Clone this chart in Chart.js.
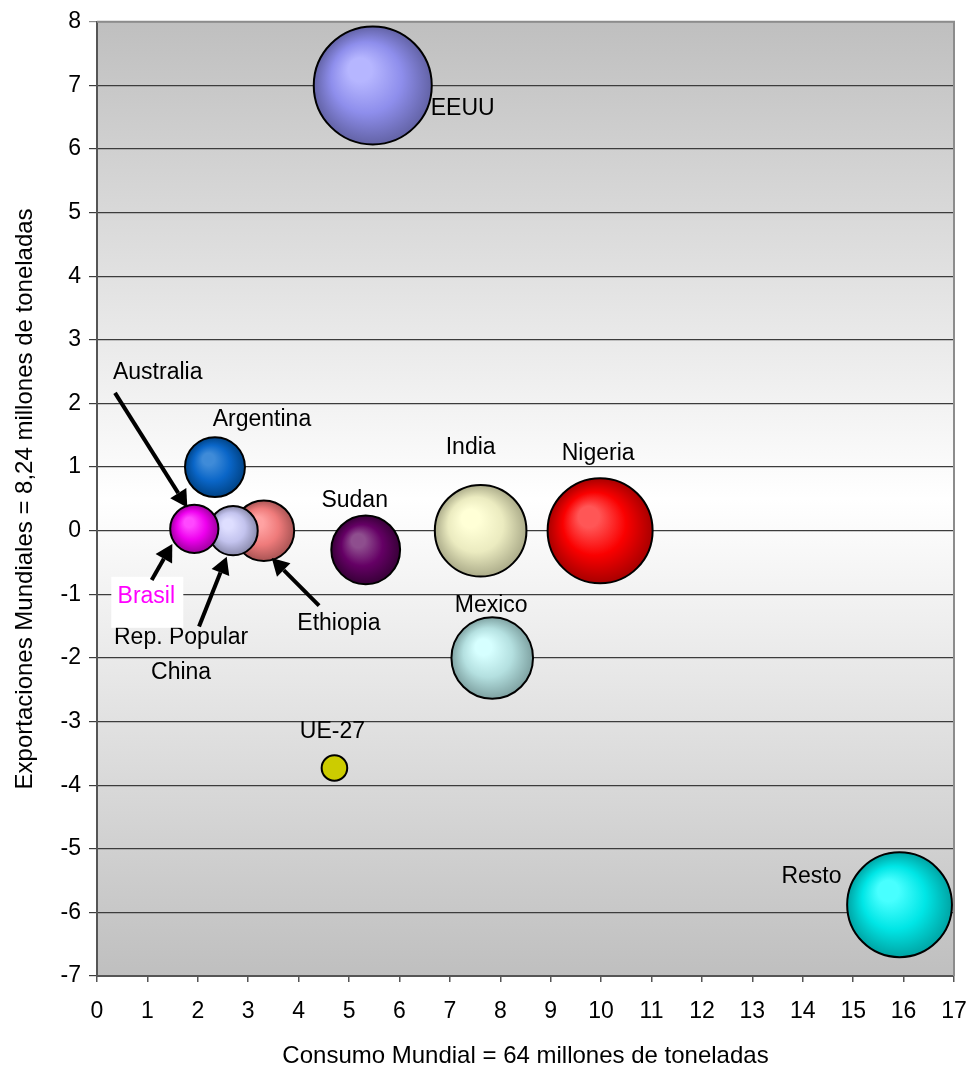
<!DOCTYPE html>
<html>
<head>
<meta charset="utf-8">
<script src="https://cdn.jsdelivr.net/npm/chart.js@4/dist/chart.umd.min.js"></script>
<style>
  html, body { margin: 0; padding: 0; background: #ffffff; overflow: hidden; }
  #wrap { width: 972px; height: 1073px; position: relative; }
  #wrap canvas { display: block; }
</style>
</head>
<body>
<div id="wrap"><canvas id="c"></canvas></div>
<script>
// Countries in drawing order (later ones are painted on top)
const countries = ['EEUU', 'Argentina', 'Sudan', 'India', 'Nigeria', 'Mexico', 'UE-27', 'Resto', 'Ethiopia', 'Rep. Popular China', 'Brasil'];
// Consumo (x) and exportaciones (y) in millones de toneladas
const consumo = [5.47, 2.34, 5.33, 7.61, 9.98, 7.84, 4.71, 15.92, 3.31, 2.70, 1.93];
const exportaciones = [7.0, 1.0, -0.3, 0.0, 0.0, -2.0, -3.73, -5.88, 0.0, 0.0, 0.03];
// Relative bubble size (area)
const tamano = [100, 25.8, 34.0, 60.3, 79.2, 47.8, 4.7, 78.9, 26.4, 17.4, 16.7];

const xTicksMin = 0, xTicksMax = 17;
const yTicksMin = -7, yTicksMax = 8;

// Bubble shading: [highlight, body, rim]
const shades = {
  'EEUU': ['#b6b6ff', '#8e8eec', '#6363a6'],
  'Argentina': ['#3f8bd8', '#0a66c8', '#004386'],
  'Sudan': ['#8e4e8e', '#650065', '#380038'],
  'India': ['#ffffd6', '#ebebc0', '#acac8a'],
  'Nigeria': ['#ff5656', '#fa0000', '#a80000'],
  'Mexico': ['#d6ffff', '#b4e0e0', '#7fa2a2'],
  'UE-27': ['#cccc00', '#cccc00', '#cccc00'],
  'Resto': ['#48ffff', '#00e6e6', '#00a4a4'],
  'Ethiopia': ['#ffa2a2', '#ef7b7b', '#a85454'],
  'Rep. Popular China': ['#dedeff', '#c3c3ee', '#8a8aac'],
  'Brasil': ['#ff48ff', '#ee00ee', '#9e009e']
};

// Label placement relative to each bubble centre (pixels)
const labelStyle = {
  'EEUU': { lines: ['EEUU'], dx: 58, dy: 23, align: 'left' },
  'Argentina': { lines: ['Argentina'], dx: 47, dy: -47, align: 'center' },
  'Sudan': { lines: ['Sudan'], dx: -11, dy: -49, align: 'center' },
  'India': { lines: ['India'], dx: -10, dy: -83, align: 'center' },
  'Nigeria': { lines: ['Nigeria'], dx: -2, dy: -77, align: 'center' },
  'Mexico': { lines: ['Mexico'], dx: -1, dy: -52, align: 'center' },
  'UE-27': { lines: ['UE-27'], dx: -2, dy: -36, align: 'center' },
  'Resto': { lines: ['Resto'], dx: -58, dy: -28, align: 'right' },
  'Ethiopia': { lines: ['Ethiopia'], dx: 75, dy: 93, align: 'center' },
  'Rep. Popular China': { lines: ['Rep. Popular', 'China'], dx: -52, dy: 107, align: 'center', lineGap: 34.5 },
  'Brasil': { lines: ['Brasil'], dx: -48, dy: 68, align: 'center', color: '#ff00ff', box: [-35, -20, 72, 51] }
};

// Free-standing note and pointer arrows, in axis units
const notes = [{ text: 'Australia', x: 0.317, y: 2.48, align: 'left' }];
const arrows = [
  { from: [0.357, 2.166], to: [1.792, 0.364] },
  { from: [1.085, -0.774], to: [1.494, -0.210] },
  { from: [2.024, -1.506], to: [2.573, -0.409] },
  { from: [4.405, -1.177], to: [3.466, -0.429] }
];

const FONT = '"Liberation Sans", Arial, sans-serif';
const maxR = 59;
const maxSize = Math.max(...tamano);

const points = countries.map((c, i) => ({
  x: consumo[i],
  y: exportaciones[i],
  r: maxR * Math.sqrt(tamano[i] / maxSize),
  name: c
}));

function bubbleFill(context) {
  const chart = context.chart;
  const raw = context.raw;
  if (!raw || !shades[raw.name]) return '#999999';
  const s = shades[raw.name];
  const xs = chart.scales && chart.scales.x, ys = chart.scales && chart.scales.y;
  if (!xs || !ys) return s[1];
  const cx = xs.getPixelForValue(raw.x);
  const cy = ys.getPixelForValue(raw.y);
  const r = raw.r;
  if (![cx, cy, r].every(Number.isFinite) || r <= 0) return s[1];
  const g = chart.ctx.createRadialGradient(cx - 0.27 * r, cy - 0.33 * r, 0, cx, cy, r);
  g.addColorStop(0, s[0]);
  g.addColorStop(0.2, s[0]);
  g.addColorStop(0.6, s[1]);
  g.addColorStop(1, s[2]);
  return g;
}

// Plot background: grey at the edges fading to white in the middle
const plotBackground = {
  id: 'plotBackground',
  beforeDraw(chart) {
    const { ctx, chartArea: a } = chart;
    const g = ctx.createLinearGradient(0, a.top, 0, a.bottom);
    g.addColorStop(0, '#bfbfbf');
    g.addColorStop(0.5, '#ffffff');
    g.addColorStop(1, '#bfbfbf');
    ctx.save();
    ctx.fillStyle = g;
    ctx.fillRect(a.left, a.top, a.right - a.left, a.bottom - a.top);
    ctx.restore();
  },
  beforeDatasetsDraw(chart) {
    const { ctx, chartArea: a } = chart;
    ctx.save();
    ctx.strokeStyle = '#8c8c8c';
    ctx.lineWidth = 2;
    ctx.beginPath();
    ctx.moveTo(a.left, a.top);
    ctx.lineTo(a.right, a.top);
    ctx.lineTo(a.right, a.bottom);
    ctx.stroke();
    ctx.restore();
  }
};

function drawArrow(ctx, x0, y0, x1, y1) {
  const ang = Math.atan2(y1 - y0, x1 - x0);
  const headLen = 17, headHalf = 9.5;
  const bx = x1 - headLen * Math.cos(ang);
  const by = y1 - headLen * Math.sin(ang);
  ctx.beginPath();
  ctx.moveTo(x0, y0);
  ctx.lineTo(bx, by);
  ctx.stroke();
  ctx.beginPath();
  ctx.moveTo(x1, y1);
  ctx.lineTo(bx + headHalf * Math.sin(ang), by - headHalf * Math.cos(ang));
  ctx.lineTo(bx - headHalf * Math.sin(ang), by + headHalf * Math.cos(ang));
  ctx.closePath();
  ctx.fill();
}

// Country names, notes and arrows
const annotations = {
  id: 'annotations',
  afterDatasetsDraw(chart) {
    const { ctx } = chart;
    const xs = chart.scales.x, ys = chart.scales.y;
    const meta = chart.getDatasetMeta(0);
    ctx.save();
    ctx.font = '23px ' + FONT;
    ctx.textBaseline = 'middle';
    meta.data.forEach((el, i) => {
      const st = labelStyle[countries[i]];
      if (!st) return;
      const tx = el.x + st.dx, ty = el.y + st.dy;
      if (st.box) {
        ctx.fillStyle = '#ffffff';
        ctx.fillRect(tx + st.box[0], ty + st.box[1], st.box[2], st.box[3]);
      }
      ctx.fillStyle = st.color || '#000000';
      ctx.textAlign = st.align;
      st.lines.forEach((ln, k) => ctx.fillText(ln, tx, ty + k * (st.lineGap || 0)));
    });
    notes.forEach(n => {
      ctx.fillStyle = '#000000';
      ctx.textAlign = n.align;
      ctx.fillText(n.text, xs.getPixelForValue(n.x), ys.getPixelForValue(n.y));
    });
    ctx.strokeStyle = '#000000';
    ctx.fillStyle = '#000000';
    ctx.lineWidth = 4;
    ctx.lineCap = 'butt';
    arrows.forEach(a => {
      drawArrow(ctx,
        xs.getPixelForValue(a.from[0]), ys.getPixelForValue(a.from[1]),
        xs.getPixelForValue(a.to[0]), ys.getPixelForValue(a.to[1]));
    });
    ctx.restore();
  }
};

Chart.defaults.font.family = FONT;
Chart.defaults.color = '#000000';

new Chart(document.getElementById('c'), {
  type: 'bubble',
  data: {
    datasets: [{
      data: points,
      backgroundColor: bubbleFill,
      borderColor: '#000000',
      borderWidth: 2,
      hoverBorderWidth: 2,
      clip: false
    }]
  },
  options: {
    responsive: true,
    maintainAspectRatio: false,
    animation: false,
    events: [],
    layout: { autoPadding: false, padding: { top: 19.5, right: 18, bottom: 0, left: 0 } },
    plugins: { legend: { display: false }, tooltip: { enabled: false } },
    scales: {
      x: {
        type: 'linear',
        min: xTicksMin,
        max: xTicksMax,
        afterFit(scale) {
          scale.height = 97;
          scale.paddingLeft = 0;
          scale.paddingRight = 0;
        },
        ticks: { stepSize: 1, padding: 16, font: { size: 23 }, color: '#000000', maxRotation: 0, autoSkip: false },
        grid: { drawOnChartArea: false, drawTicks: true, tickLength: 6, color: '#555555', lineWidth: 1.5 },
        border: { display: true, color: '#555555', width: 2 },
        title: { display: true, text: 'Consumo Mundial = 64 millones de toneladas', font: { size: 24 }, color: '#000000', padding: { top: 0, bottom: 2 } }
      },
      y: {
        type: 'linear',
        min: yTicksMin,
        max: yTicksMax,
        afterFit(scale) { scale.width = 97; },
        ticks: { stepSize: 1, padding: 8, font: { size: 23 }, color: '#000000', autoSkip: false },
        grid: {
          drawOnChartArea: true,
          drawTicks: true,
          tickLength: 8,
          lineWidth: 1.2,
          color: (c) => (c.tick && c.tick.value === yTicksMax ? '#8c8c8c' : '#3c3c3c')
        },
        border: { display: true, color: '#555555', width: 2 },
        title: { display: true, text: 'Exportaciones Mundiales = 8,24 millones de toneladas', font: { size: 24 }, color: '#000000', padding: { top: 11, bottom: 0 } }
      }
    }
  },
  plugins: [plotBackground, annotations]
});
</script>
</body>
</html>
